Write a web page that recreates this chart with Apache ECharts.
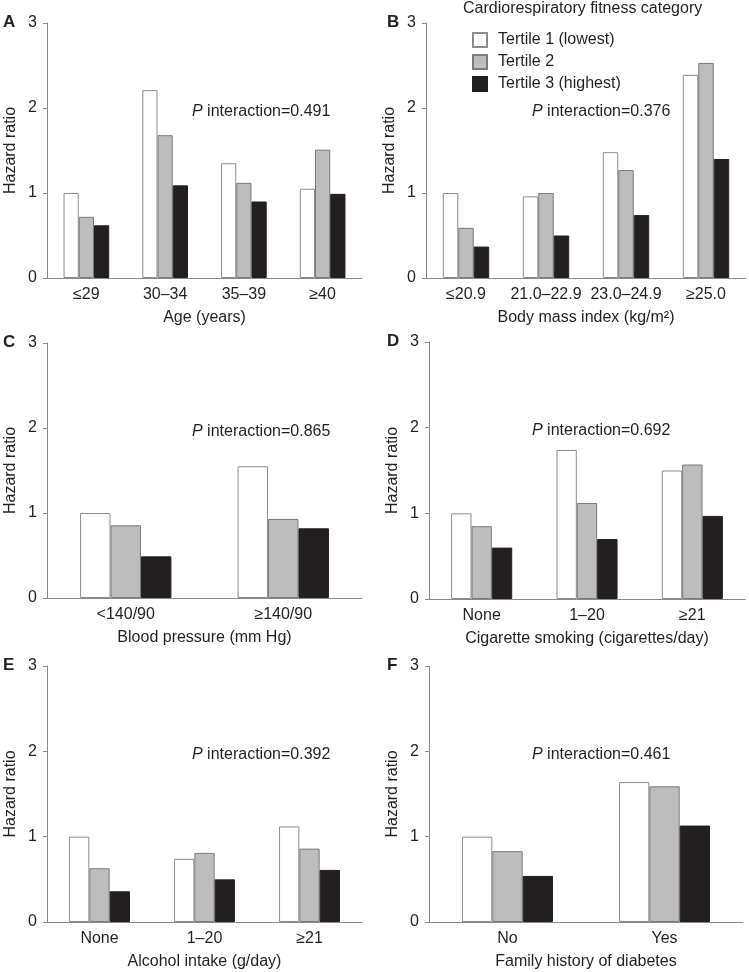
<!DOCTYPE html>
<html>
<head>
<meta charset="utf-8">
<script src="https://cdn.jsdelivr.net/npm/echarts@6/dist/echarts.min.js"></script>
<style>
  html, body { margin: 0; padding: 0; background: #fff; }
  #chart { width: 749px; height: 972px; }
</style>
</head>
<body>
<div id="chart"></div>
<script>
// data
const ageCats = ["≤29", "30–34", "35–39", "≥40"];
const ageT1 = [1.00, 2.21, 1.35, 1.05];
const ageT2 = [0.72, 1.68, 1.12, 1.51];
const ageT3 = [0.62, 1.09, 0.90, 0.99];

const bmiCats = ["≤20.9", "21.0–22.9", "23.0–24.9", "≥25.0"];
const bmiT1 = [1.00, 0.96, 1.48, 2.39];
const bmiT2 = [0.59, 1.00, 1.27, 2.53];
const bmiT3 = [0.37, 0.50, 0.74, 1.40];

const bpCats = ["<140/90", "≥140/90"];
const bpT1 = [1.00, 1.55];
const bpT2 = [0.855, 0.93];
const bpT3 = [0.49, 0.82];

const smokeCats = ["None", "1–20", "≥21"];
const smokeT1 = [1.00, 1.74, 1.50];
const smokeT2 = [0.85, 1.12, 1.57];
const smokeT3 = [0.60, 0.70, 0.97];

const alcCats = ["None", "1–20", "≥21"];
const alcT1 = [1.00, 0.74, 1.12];
const alcT2 = [0.63, 0.81, 0.86];
const alcT3 = [0.36, 0.50, 0.61];

const famCats = ["No", "Yes"];
const famT1 = [1.00, 1.64];
const famT2 = [0.83, 1.59];
const famT3 = [0.54, 1.13];

const tertileNames = ["Tertile 1 (lowest)", "Tertile 2", "Tertile 3 (highest)"];
const panelLetters = ["A", "B", "C", "D", "E", "F"];
const pValues = ["0.491", "0.376", "0.865", "0.692", "0.392", "0.461"];
const xNames = [
  "Age (years)",
  "Body mass index (kg/m²)",
  "Blood pressure (mm Hg)",
  "Cigarette smoking (cigarettes/day)",
  "Alcohol intake (g/day)",
  "Family history of diabetes"
];

const panels = [
  { cats: ageCats, t: [ageT1, ageT2, ageT3] },
  { cats: bmiCats, t: [bmiT1, bmiT2, bmiT3] },
  { cats: bpCats, t: [bpT1, bpT2, bpT3] },
  { cats: smokeCats, t: [smokeT1, smokeT2, smokeT3] },
  { cats: alcCats, t: [alcT1, alcT2, alcT3] },
  { cats: famCats, t: [famT1, famT2, famT3] }
];

// layout
const grids = [
  { left: 47, top: 23, width: 315, height: 255 },
  { left: 426, top: 23, width: 320, height: 255 },
  { left: 47, top: 343, width: 315, height: 255 },
  { left: 429, top: 342, width: 316, height: 257 },
  { left: 47, top: 666, width: 315, height: 256 },
  { left: 429, top: 666, width: 314, height: 256 }
];

const font = "Liberation Sans, Arial, sans-serif";
const fs = 16;
const ink = "#231f20";
const axisGray = "#8a8a8a";

const barStyles = [
  { color: "#ffffff", borderColor: "#8c8c8c", borderWidth: 1 },
  { color: "#bdbdbd", borderColor: "#7a7a7a", borderWidth: 1 },
  { color: "#231f20", borderColor: "#231f20", borderWidth: 1 }
];

const xAxes = [], yAxes = [], series = [], graphics = [];

panels.forEach(function (p, i) {
  const g = grids[i];
  xAxes.push({
    type: "category",
    gridIndex: i,
    data: p.cats,
    axisLine: { lineStyle: { color: axisGray, width: 1 } },
    axisTick: { show: false },
    axisLabel: { interval: 0, margin: 9, fontSize: fs, fontFamily: font, color: ink },
    name: xNames[i],
    nameLocation: "middle",
    nameGap: 32,
    nameTextStyle: { fontSize: fs, fontFamily: font, color: ink }
  });
  yAxes.push({
    type: "value",
    gridIndex: i,
    min: 0,
    max: 3,
    interval: 1,
    axisLine: { show: true, lineStyle: { color: axisGray, width: 1 } },
    axisTick: { show: true, length: 4, lineStyle: { color: axisGray } },
    splitLine: { show: false },
    axisLabel: { margin: 10, fontSize: fs, fontFamily: font, color: ink },
    name: "Hazard ratio",
    nameLocation: "middle",
    nameGap: 28,
    nameTextStyle: { fontSize: fs, fontFamily: font, color: ink }
  });
  p.t.forEach(function (vals, k) {
    series.push({
      type: "bar",
      name: tertileNames[k],
      xAxisIndex: i,
      yAxisIndex: i,
      data: vals,
      barGap: "0%",
      barCategoryGap: "42%",
      itemStyle: barStyles[k],
      emphasis: { disabled: true },
      silent: true
    });
  });

  // panel letter
  graphics.push({
    type: "text",
    left: i % 2 === 0 ? 3 : 387,
    top: g.top - 9,
    style: { text: panelLetters[i], fontSize: 17, fontWeight: "bold", fontFamily: font, fill: ink }
  });
  // P interaction
  graphics.push({
    type: "text",
    left: i % 2 === 0 ? 192 : 532,
    top: g.top + 81,
    style: {
      text: "{i|P} interaction=" + pValues[i],
      fontSize: fs,
      fontFamily: font,
      fill: ink,
      rich: { i: { fontStyle: "italic", fontSize: fs, fontFamily: font, fill: ink } }
    }
  });
});

graphics.push({
  type: "text",
  left: 463,
  top: 1,
  style: { text: "Cardiorespiratory fitness category", fontSize: fs, fontFamily: font, fill: ink }
});

const chart = echarts.init(document.getElementById("chart"), null, { renderer: "canvas" });
chart.setOption({
  animation: false,
  backgroundColor: "#fff",
  textStyle: { fontFamily: font },
  grid: grids.map(function (g) { return Object.assign({ containLabel: false }, g); }),
  xAxis: xAxes,
  yAxis: yAxes,
  legend: {
    data: tertileNames,
    orient: "vertical",
    left: 467,
    top: 27,
    icon: "rect",
    itemWidth: 14,
    itemHeight: 14,
    itemGap: 6,
    selectedMode: false,
    textStyle: { fontSize: fs, fontFamily: font, color: ink, padding: [0, 0, 0, 6] }
  },
  graphic: graphics,
  series: series
});
</script>
</body>
</html>
